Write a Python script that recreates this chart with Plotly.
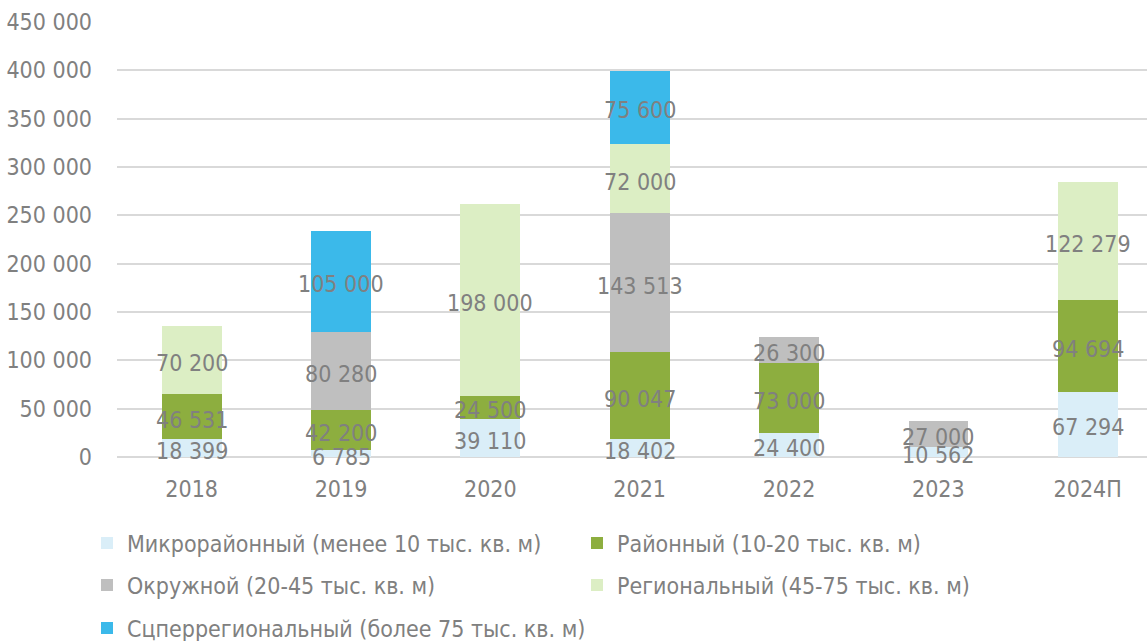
import plotly.graph_objects as go

categories = ["2018", "2019", "2020", "2021", "2022", "2023", "2024П"]
series_names = [
    "Микрорайонный (менее 10 тыс. кв. м)",
    "Районный (10-20 тыс. кв. м)",
    "Окружной (20-45 тыс. кв. м)",
    "Региональный (45-75 тыс. кв. м)",
    "Сцперрегиональный (более 75 тыс. кв. м)",
]
micro = [18399, 6785, 39110, 18402, 24400, 10562, 67294]
rayon = [46531, 42200, 24500, 90047, 73000, 0, 94694]
okrug = [0, 80280, 0, 143513, 26300, 27000, 0]
region = [70200, 0, 198000, 72000, 0, 0, 122279]
superreg = [0, 105000, 0, 75600, 0, 0, 0]
colors = ["#DAEEF8", "#8DAE3F", "#BFBFBF", "#DCEEC4", "#3BB9EA"]
legend_rows = ["legend", "legend", "legend2", "legend2", "legend3"]

all_series = [micro, rayon, okrug, region, superreg]
FONT = "DejaVu Sans Condensed"
TXT = "#808080"

fig = go.Figure()
base = [0] * len(categories)
label_i, label_y, label_t = [], [], []
for name, vals, col, lg in zip(series_names, all_series, colors, legend_rows):
    fig.add_trace(go.Bar(x=categories, y=vals, name=name, marker_color=col,
                         marker_line_width=0, width=0.4, legend=lg))
    for i, v in enumerate(vals):
        if v > 0:
            label_i.append(i)
            label_y.append(base[i] + v / 2)
            label_t.append(f"{v:,}".replace(",", " "))
        base[i] += v

for li, ly, lt in zip(label_i, label_y, label_t):
    fig.add_annotation(x=li, y=ly, xref="x", yref="y", text=lt, showarrow=False,
                       yshift=-3, xanchor="center", yanchor="middle",
                       font=dict(family=FONT, size=23, color=TXT))

PH = 641 - 22 - 184
PW = 1147 - 117


def leg(top_px, ew=445):
    return dict(orientation="h", x=-30 / PW, y=-(top_px - 457) / PH,
                xanchor="left", yanchor="middle",
                entrywidth=ew, entrywidthmode="pixels", traceorder="normal",
                bgcolor="rgba(0,0,0,0)",
                font=dict(family=FONT, size=23, color=TXT))


fig.update_layout(
    barmode="stack",
    width=1147, height=641,
    margin=dict(l=117, r=0, t=22, b=184, autoexpand=False),
    plot_bgcolor="white", paper_bgcolor="white",
    font=dict(family=FONT, size=23, color=TXT),
    legend=leg(543), legend2=leg(585), legend3=leg(628, 700),
    separators=". ",
)
fig.update_xaxes(type="category", range=[-0.5, 6.397], showline=False, ticks="",
                 ticklabelstandoff=16, automargin=False,
                 tickfont=dict(family=FONT, size=23, color=TXT))
fig.update_yaxes(range=[0, 450000], dtick=50000, tickformat=",",
                 showgrid=True, gridcolor="#D9D9D9", gridwidth=1.5,
                 zeroline=True, zerolinecolor="#D9D9D9", zerolinewidth=1.5,
                 automargin=False,
                 ticklabelstandoff=24, tickfont=dict(family=FONT, size=23, color=TXT))

fig.write_html("out.html", config={"displayModeBar": False},
               post_script="document.body.style.margin='0';document.body.style.overflow='hidden';")
